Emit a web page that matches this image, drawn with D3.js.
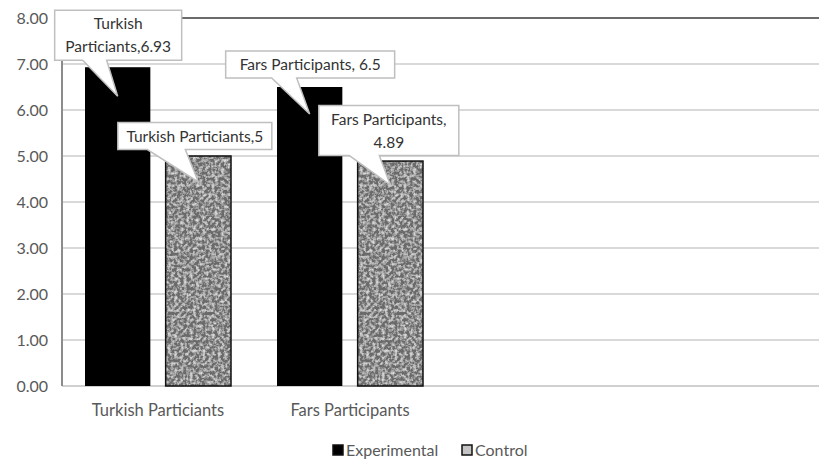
<!DOCTYPE html>
<html lang="en">
<head>
<meta charset="UTF-8">
<title>Participants chart</title>
<script src="https://d3js.org/d3.v7.min.js"></script>
<style>
  body { margin: 0; background: #fff; }
  svg text { font-family: Lato, "Open Sans", sans-serif; }
  .tick-label { fill: #595959; font-size: 16px; }
  .cat-label { fill: #595959; font-size: 16.5px; }
  .callout text { fill: #333; font-size: 15.5px; }
</style>
</head>
<body>
<svg width="819" height="461"></svg>
<script>
// chart data
const categories = ["Turkish Particiants", "Fars Participants"];
const seriesNames = ["Experimental", "Control"];
const experimental = [6.93, 6.5];
const control = [5, 4.89];
const yTicks = [0, 1, 2, 3, 4, 5, 6, 7, 8];
// callout text lines per bar
const calloutLines = [
  [["Turkish", "Particiants,6.93"], ["Turkish Particiants,5"]],
  [["Fars Participants, 6.5"], ["Fars Participants,", "4.89"]]
];

const svg = d3.select("svg");
const mLeft = 62, mRight = 830, mTop = 18, mBottom = 386;

// two empty slots on the right, like the original sheet
const x = d3.scaleBand().domain([...categories, "slot3", "slot4"]).range([mLeft, mRight]);
const inner = d3.scaleBand().domain(seriesNames).range([23, x.bandwidth() - 23]).paddingInner(0.19);
const y = d3.scaleLinear().domain([0, 8]).range([mBottom, mTop]);

const defs = svg.append("defs");
const f = defs.append("filter").attr("id", "grain").attr("x", 0).attr("y", 0).attr("width", 1).attr("height", 1);
f.append("feTurbulence").attr("type", "fractalNoise").attr("baseFrequency", 0.32).attr("numOctaves", 3).attr("seed", 7).attr("result", "n");
f.append("feColorMatrix").attr("in", "n").attr("type", "matrix")
  .attr("values", "0 0 0 0 0  0 0 0 0 0  0 0 0 0 0  0 0 0 -2.4 1.45").attr("result", "a");
f.append("feFlood").attr("flood-color", "#dadada").attr("result", "bg");
f.append("feFlood").attr("flood-color", "#6a6a6a").attr("result", "dk");
f.append("feComposite").attr("in", "dk").attr("in2", "a").attr("operator", "out").attr("result", "spots");
f.append("feMerge").selectAll("feMergeNode").data(["bg", "spots"]).join("feMergeNode").attr("in", d => d);

// gridlines
svg.append("g").selectAll("line").data(yTicks.filter(t => t > 0 && t < 8)).join("line")
  .attr("x1", mLeft).attr("x2", 819).attr("y1", d => y(d)).attr("y2", d => y(d))
  .attr("stroke", "#d9d9d9").attr("stroke-width", 2);
svg.append("line").attr("x1", mLeft).attr("x2", 819).attr("y1", y(8)).attr("y2", y(8))
  .attr("stroke", "#6b6b6b").attr("stroke-width", 2);
svg.append("line").attr("x1", mLeft).attr("x2", 819).attr("y1", y(0)).attr("y2", y(0))
  .attr("stroke", "#d0d0d0").attr("stroke-width", 2);
svg.append("line").attr("x1", mLeft).attr("x2", mLeft).attr("y1", y(8)).attr("y2", y(0))
  .attr("stroke", "#8c8c8c").attr("stroke-width", 2);

// y tick labels
const yAxis = d3.axisLeft(y).tickValues(yTicks).tickFormat(d3.format(".2f")).tickSize(0).tickPadding(14);
const ga = svg.append("g").attr("transform", `translate(${mLeft},0)`).call(yAxis);
ga.select(".domain").remove();
ga.selectAll("text").attr("class", "tick-label").attr("fill", null);
ga.attr("font-family", null).attr("font-size", null);

// bars
const groups = svg.append("g").selectAll("g").data(categories).join("g")
  .attr("transform", d => `translate(${x(d)},0)`);
groups.append("rect")
  .attr("x", inner("Experimental")).attr("width", inner.bandwidth())
  .attr("y", (d, i) => y(experimental[i])).attr("height", (d, i) => y(0) - y(experimental[i]))
  .attr("fill", "#000");
groups.append("rect")
  .attr("x", inner("Control")).attr("width", inner.bandwidth())
  .attr("y", (d, i) => y(control[i])).attr("height", (d, i) => y(0) - y(control[i]))
  .attr("fill", "#bbb").attr("filter", "url(#grain)");
groups.append("rect")
  .attr("x", inner("Control")).attr("width", inner.bandwidth())
  .attr("y", (d, i) => y(control[i])).attr("height", (d, i) => y(0) - y(control[i]))
  .attr("fill", "none").attr("stroke", "#111").attr("stroke-width", 1.5);

// category labels
svg.append("g").selectAll("text").data(categories).join("text")
  .attr("class", "cat-label").attr("x", d => x(d) + x.bandwidth() / 2).attr("y", 416)
  .attr("text-anchor", "middle").text(d => d);

// callouts: box centre offset from the bar top, box width, pointer base and tip offset
const calloutPos = [
  [{ cx: 0.5, cy: -32, w: 127, base: [-35, -11], tip: 29 }, { cx: -3.5, cy: -20, w: 154, base: [-51, -13], tip: 26 }],
  [{ cx: 0.5, cy: -22.5, w: 169, base: [-38, -13], tip: 27 }, { cx: -1.5, cy: -30.5, w: 140, base: [-41, -11], tip: 24 }]
];
const calloutData = [];
categories.forEach((c, i) => {
  [experimental[i], control[i]].forEach((v, j) => {
    const px = x(c) + inner(seriesNames[j]) + inner.bandwidth() / 2;
    calloutData.push({ px, top: y(v), lines: calloutLines[i][j], pos: calloutPos[i][j] });
  });
});
const co = svg.append("g").selectAll("g").data(calloutData).join("g").attr("class", "callout");
co.each(function (d) {
  const g = d3.select(this);
  const h = d.lines.length * 23 + 4;
  const bx = d.px + d.pos.cx - d.pos.w / 2;
  const by = d.top + d.pos.cy - h / 2;
  const ybot = by + h;
  const path = d3.path();
  path.moveTo(bx, by);
  path.lineTo(bx + d.pos.w, by);
  path.lineTo(bx + d.pos.w, ybot);
  path.lineTo(d.px + d.pos.base[1], ybot);
  path.lineTo(d.px, d.top + d.pos.tip);
  path.lineTo(d.px + d.pos.base[0], ybot);
  path.lineTo(bx, ybot);
  path.closePath();
  g.append("path").attr("d", path.toString()).attr("fill", "#fff").attr("stroke", "#bfbfbf").attr("stroke-width", 1.5);
  g.selectAll("text").data(d.lines).join("text")
    .attr("x", bx + d.pos.w / 2).attr("y", (t, k) => by + 19 + k * 23)
    .attr("text-anchor", "middle").text(t => t);
});

// legend
const legend = svg.append("g").attr("transform", "translate(333,444)");
const lg = legend.selectAll("g").data(seriesNames).join("g")
  .attr("transform", (d, i) => `translate(${i * 129},0)`);
lg.append("rect").attr("width", 10).attr("height", 10).attr("y", 1)
  .attr("fill", (d, i) => i === 0 ? "#000" : "#c4c4c4").attr("stroke", "#111").attr("stroke-width", 1.5);
lg.append("text").attr("x", 13).attr("y", 11.5).attr("font-size", 16).attr("fill", "#595959").text(d => d);
</script>
</body>
</html>
